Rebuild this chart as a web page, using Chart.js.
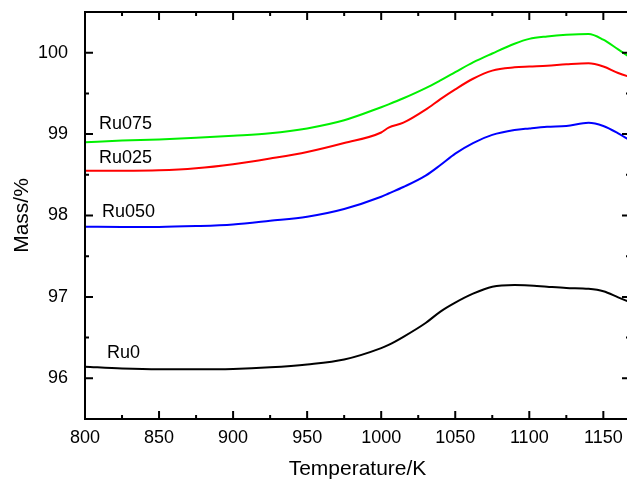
<!DOCTYPE html>
<html>
<head>
<meta charset="utf-8">
<script src="https://cdn.jsdelivr.net/npm/chart.js@4.4.0/dist/chart.umd.min.js"></script>
<style>
  html, body { margin: 0; padding: 0; overflow: hidden; background: #fff; }
  #wrap { width: 640px; height: 480px; }
</style>
</head>
<body>
<div id="wrap"><canvas id="myChart" width="640" height="480"></canvas></div>
<script>
// temperature in K, mass in %
const temps = [800, 825, 850, 875, 900, 925, 950, 975, 1000, 1005, 1015, 1030, 1040, 1050, 1062, 1075, 1090, 1100, 1112, 1125, 1140, 1150, 1160, 1170];
const ru075 = [98.90, 98.92, 98.935, 98.955, 98.98, 99.01, 99.07, 99.17, 99.33, 99.365, 99.44, 99.565, 99.66, 99.76, 99.88, 99.99, 100.11, 100.17, 100.20, 100.22, 100.23, 100.16, 100.04, 99.92];
const ru025 = [98.55, 98.55, 98.555, 98.58, 98.63, 98.70, 98.78, 98.89, 99.02, 99.08, 99.14, 99.30, 99.43, 99.55, 99.68, 99.78, 99.82, 99.83, 99.84, 99.857, 99.87, 99.83, 99.75, 99.69];
const ru050 = [97.863, 97.86, 97.86, 97.87, 97.89, 97.935, 97.985, 98.08, 98.23, 98.27, 98.35, 98.49, 98.62, 98.76, 98.89, 98.99, 99.05, 99.07, 99.09, 99.10, 99.14, 99.10, 99.01, 98.90];
const ru0 = [96.143, 96.12, 96.11, 96.11, 96.115, 96.135, 96.17, 96.23, 96.37, 96.41, 96.51, 96.68, 96.82, 96.93, 97.04, 97.125, 97.146, 97.14, 97.125, 97.11, 97.10, 97.07, 96.995, 96.92];

const xMajor = [800, 850, 900, 950, 1000, 1050, 1100, 1150];
const yMajor = [96, 97, 98, 99, 100];

const pts = arr => temps.map((t, i) => ({ x: t, y: arr[i] }));

// inward ticks on all four sides plus the box
const framePlugin = {
  id: 'frame',
  afterDraw(chart) {
    const { ctx, chartArea: a, scales: { x, y } } = chart;
    ctx.save();
    ctx.strokeStyle = '#000';
    ctx.lineWidth = 2;
    ctx.strokeRect(a.left, a.top, a.right - a.left, a.bottom - a.top);
    const xMinor = xMajor.map(v => v + 25).filter(v => v < x.max);
    const yMinor = yMajor.map(v => v - 0.5).filter(v => v > y.min);
    ctx.beginPath();
    const xt = (vals, len) => vals.forEach(v => {
      const p = x.getPixelForValue(v);
      ctx.moveTo(p, a.bottom); ctx.lineTo(p, a.bottom - len);
      ctx.moveTo(p, a.top); ctx.lineTo(p, a.top + len);
    });
    const yt = (vals, len) => vals.forEach(v => {
      const p = y.getPixelForValue(v);
      ctx.moveTo(a.left, p); ctx.lineTo(a.left + len, p);
      ctx.moveTo(a.right, p); ctx.lineTo(a.right - len, p);
    });
    xt(xMajor, 8); xt(xMinor, 4);
    yt(yMajor, 8); yt(yMinor, 4);
    ctx.stroke();

    // series names above the start of each curve
    ctx.fillStyle = '#000';
    ctx.font = '18px "Liberation Sans", Arial, sans-serif';
    ctx.textBaseline = 'alphabetic';
    chart.data.datasets.forEach(ds => {
      const py = y.getPixelForValue(ds.data[0].y);
      ctx.fillText(ds.label, a.left + ds.nameDx, py - ds.nameDy);
    });
    ctx.restore();
  }
};

const font = { family: '"Liberation Sans", Arial, sans-serif' };

new Chart(document.getElementById('myChart'), {
  type: 'line',
  data: {
    datasets: [
      { label: 'Ru0', data: pts(ru0), borderColor: '#000000', nameDx: 22, nameDy: 9 },
      { label: 'Ru050', data: pts(ru050), borderColor: '#0000ff', nameDx: 17, nameDy: 10 },
      { label: 'Ru025', data: pts(ru025), borderColor: '#ff0000', nameDx: 14, nameDy: 8 },
      { label: 'Ru075', data: pts(ru075), borderColor: '#00f000', nameDx: 14, nameDy: 13 }
    ]
  },
  options: {
    responsive: false,
    animation: false,
    layout: { padding: { top: 12, right: 10, left: 0, bottom: 0 } },
    elements: {
      line: { borderWidth: 2, tension: 0.4, cubicInterpolationMode: 'monotone' },
      point: { radius: 0 }
    },
    plugins: { legend: { display: false }, tooltip: { enabled: false } },
    scales: {
      x: {
        type: 'linear',
        min: 800,
        max: 1168,
        afterBuildTicks: s => { s.ticks = xMajor.map(v => ({ value: v })); },
        afterFit: s => { s.height = 61; s.paddingLeft = 0; s.paddingRight = 0; },
        grid: { display: false },
        border: { display: false },
        ticks: { color: '#000', padding: 0, maxRotation: 0, callback: v => String(v), font: { ...font, size: 18 } },
        title: {
          display: true,
          text: 'Temperature/K',
          color: '#000',
          padding: { top: 0, bottom: 0 },
          font: { ...font, size: 21, lineHeight: 1 }
        }
      },
      y: {
        min: 95.5,
        max: 100.5,
        afterBuildTicks: s => { s.ticks = yMajor.map(v => ({ value: v })); },
        afterFit: s => { s.width = 85; s.paddingTop = 0; s.paddingBottom = 0; },
        grid: { display: false },
        border: { display: false },
        ticks: { color: '#000', padding: 9, callback: v => String(v), font: { ...font, size: 18 } },
        title: {
          display: true,
          text: 'Mass/%',
          color: '#000',
          padding: { top: 12, bottom: 0 },
          font: { ...font, size: 21, lineHeight: 1 }
        }
      }
    }
  },
  plugins: [framePlugin]
});
</script>
</body>
</html>
